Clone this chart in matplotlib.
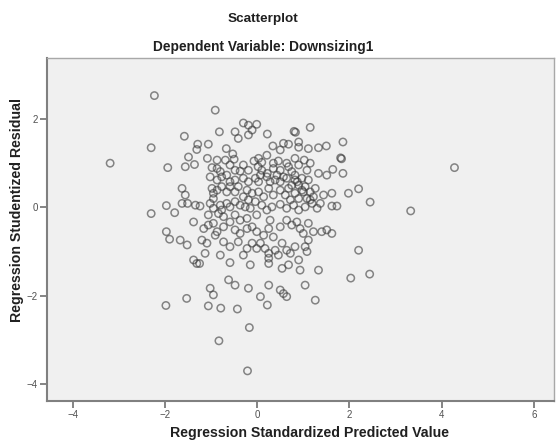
import matplotlib
matplotlib.use("Agg")
import matplotlib.pyplot as plt

# Regression standardized predicted value (x) and studentized residual (y)
pred = [
    -2.23, -3.19, -2.30, -1.94, -1.97, -1.79, -2.30, 2.20, 2.45, 3.33,
    4.28, 2.20, 2.03, 2.44, -1.97, -1.90, -1.25, -1.98, -1.06, -0.79,
    -0.43, 0.22, 1.26, -0.17, -0.83, -0.21,
    # upper core
    -0.91, -0.30, -0.19, -0.01, -0.11, -0.48, -0.41, -0.19, -0.82, 0.22,
    0.80, 0.83, 1.15, -1.58, 1.86, -1.29, -1.31, -1.06, -0.67, -0.53,
    -0.50, 0.34, 0.50, 0.57, 0.68, 0.90, 0.90, 1.11, 1.33, 1.50,
    1.81, 1.83, -1.49, -1.56, -1.36, -1.08, -0.87, -0.69, -0.98, -0.87,
    -0.80, -0.59, -0.48, -0.30, -0.37, -0.19, -0.07, 0.03, 0.10, 0.21,
    0.35, 0.46, 0.64, 0.68, 0.82, 0.90, 1.02, 1.15, 1.33, 1.51,
    1.64, 1.86, 0.02, 0.10, 0.22, 0.35, 0.50, 0.43, 0.57, 0.75,
    0.82, 0.87, 0.97, 1.08, 1.11, -1.02, -0.87, -0.77, -0.66, -0.59,
    -0.48, -0.30, -0.19, -0.04, 0.03, 0.07, 0.21, 0.28, 0.39, 0.50,
    0.64, 0.75, 0.82, 0.90, 0.97, 1.04, 1.15, 1.26, -1.63, -1.56,
    -0.98, -0.95, -0.87, -0.77, -0.66, -0.59, -0.48, -0.41, -0.22, -0.11,
    0.03, 0.14, 0.25, 0.35, 0.50, 0.61, 0.68, 0.82, 0.90, 1.00,
    1.08, 1.22, 1.44, 1.62, 1.98, -0.95, -0.30, -0.19, -0.04, 0.72,
    1.15, 1.37,
    # around zero
    -1.63, -1.51, -1.34, -1.24, -1.02, -0.95, -0.80, -0.77, -0.66, -0.59,
    -0.48, -0.37, -0.26, -0.15, -0.01, 0.10, 0.21, 0.32, 0.50, 0.64,
    0.79, 0.90, 1.04, 1.19, 1.30, 1.62, 1.73,
    # lower core
    -1.38, -1.06, -0.95, -0.84, -0.73, -0.59, -0.48, -0.37, -0.22, -1.16,
    -1.06, -0.91, -0.87, -0.73, -0.48, -0.37, -0.22, -0.11, -0.01, 0.14,
    0.25, 0.28, 0.35, 0.50, 0.64, 0.75, 0.86, 0.93, 1.00, 1.11,
    1.22, 1.40, 1.51, 1.62, -1.67, -1.52, -1.20, -1.09, -1.13, -0.80,
    -0.73, -0.59, -0.41, -0.30, -0.22, -0.11, -0.01, 0.07, 0.17, 0.25,
    0.25, 0.25, 0.39, 0.46, 0.54, 0.64, 0.72, 0.82, 0.90, 1.04,
    1.08, 1.11, -1.38, -1.31, -0.59, -0.15, 0.54, 0.68, 0.93, 1.33,
    -0.62, -0.48, -0.19, 0.25, 0.50, 0.57, 0.64, 1.04, -1.02, -0.95,
    -1.53, 0.07,
]
resid = [
    2.53, 1.00, 1.35, 0.90, 0.04, -0.12, -0.14, 0.42, 0.12, -0.08,
    0.90, -0.97, -1.60, -1.51, -0.55, -0.72, -1.27, -2.22, -2.23, -2.28,
    -2.30, -2.21, -2.10, -2.72, -3.02, -3.70,
    # upper core
    2.20, 1.91, 1.86, 1.88, 1.75, 1.71, 1.56, 1.64, 1.71, 1.66,
    1.72, 1.70, 1.81, 1.61, 1.48, 1.43, 1.31, 1.43, 1.33, 1.21,
    1.09, 1.39, 1.30, 1.45, 1.43, 1.48, 1.36, 1.33, 1.35, 1.39,
    1.12, 1.10, 1.14, 0.92, 0.97, 1.11, 1.07, 1.07, 0.90, 0.88,
    0.81, 0.96, 0.84, 0.96, 0.82, 0.84, 1.05, 1.11, 1.02, 1.18,
    1.00, 1.05, 1.00, 0.92, 1.11, 0.96, 1.07, 1.00, 0.77, 0.73,
    0.86, 0.77, 0.92, 0.84, 0.77, 0.88, 0.84, 0.73, 0.69, 0.81,
    0.73, 0.58, 0.66, 0.84, 0.62, 0.69, 0.62, 0.69, 0.73, 0.58,
    0.62, 0.66, 0.58, 0.66, 0.58, 0.73, 0.69, 0.58, 0.62, 0.58,
    0.66, 0.50, 0.62, 0.50, 0.39, 0.47, 0.35, 0.43, 0.43, 0.28,
    0.43, 0.32, 0.39, 0.47, 0.35, 0.47, 0.35, 0.47, 0.39, 0.32,
    0.35, 0.24, 0.43, 0.28, 0.39, 0.28, 0.43, 0.32, 0.20, 0.35,
    0.20, 0.24, 0.28, 0.32, 0.32, 0.20, 0.24, 0.17, 0.13, 0.17,
    0.17, 0.09,
    # around zero
    0.09, 0.09, 0.05, 0.03, 0.09, -0.02, 0.05, -0.06, 0.09, 0.01,
    0.13, 0.05, 0.01, -0.02, -0.17, 0.05, -0.06, 0.01, 0.07, -0.02,
    0.05, -0.06, 0.01, 0.09, -0.02, 0.03, 0.03,
    # lower core
    -0.33, -0.17, -0.36, -0.14, -0.21, -0.33, -0.17, -0.29, -0.25, -0.48,
    -0.40, -0.63, -0.55, -0.44, -0.51, -0.59, -0.48, -0.44, -0.55, -0.63,
    -0.48, -0.29, -0.67, -0.44, -0.29, -0.40, -0.33, -0.48, -0.59, -0.36,
    -0.55, -0.55, -0.51, -0.59, -0.74, -0.85, -0.74, -0.81, -1.04, -1.08,
    -0.78, -0.89, -0.78, -1.08, -0.93, -0.81, -0.93, -0.81, -0.93, -1.04,
    -1.15, -1.27, -0.97, -1.08, -0.81, -0.97, -1.04, -0.89, -1.19, -0.89,
    -1.00, -0.74, -1.19, -1.27, -1.25, -1.30, -1.38, -1.30, -1.42, -1.42,
    -1.64, -1.76, -1.83, -1.76, -1.87, -1.95, -2.02, -1.76, -1.83, -1.98,
    -2.06, -2.02,
]

xticks = [-4, -2, 0, 2, 4, 6]
yticks = [-4, -2, 0, 2]

plt.rcParams['font.family'] = ['Liberation Sans', 'DejaVu Sans']

fig = plt.figure(figsize=(5.56, 4.43), dpi=100)
ax = fig.add_axes([0.0845, 0.095, 0.912, 0.774])
ax.set_facecolor('#f0f0f0')

ax.scatter(pred, resid, s=28, facecolors='none', edgecolors='#3a3a3a',
           linewidths=1.1, alpha=0.6)

ax.set_xlim(-4.56, 6.44)
ax.set_ylim(-4.38, 3.38)
ax.set_xticks(xticks)
ax.set_yticks(yticks)
ax.tick_params(direction='out', length=5, width=1.2, colors='#707070',
               labelsize=7, labelcolor='#505050', pad=1.5)

for side in ['left', 'bottom']:
    ax.spines[side].set_color('#808080')
    ax.spines[side].set_linewidth(1.5)
for side in ['top', 'right']:
    ax.spines[side].set_color('#a8a8a8')
    ax.spines[side].set_linewidth(1.0)

fig.text(0.473, 1 - 19 / 443, 'Scatterplot', ha='center', va='center',
         fontsize=9.7, fontweight='bold', color='#202020')
fig.text(0.473, 1 - 47 / 443, 'Dependent Variable: Downsizing1', ha='center',
         va='center', fontsize=9.9, fontweight='bold', color='#202020')
fig.text(0.557, 1 - 433 / 443, 'Regression Standardized Predicted Value',
         ha='center', va='center', fontsize=10.2, fontweight='bold', color='#202020')
fig.text(17 / 556, 1 - 210 / 443, 'Regression Studentized Residual',
         ha='center', va='center', rotation=90, fontsize=10.2, fontweight='bold',
         color='#202020')

plt.savefig('out.png', dpi=100)
